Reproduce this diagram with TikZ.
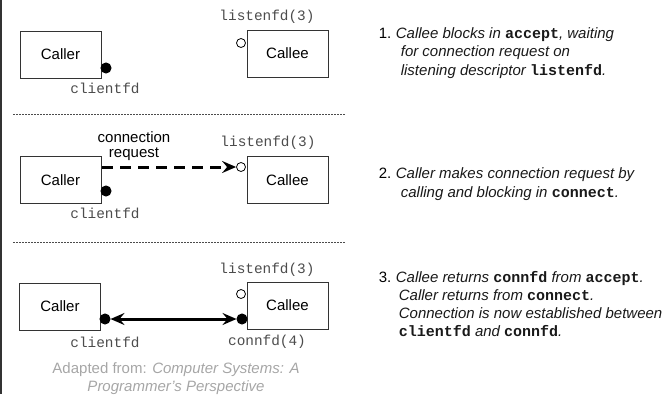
\documentclass[tikz,border=0pt]{standalone}
\usepackage{fontspec}
\setmainfont{Liberation Sans}
\setmonofont{Liberation Mono}
\usetikzlibrary{arrows.meta}

\newcommand{\code}[1]{{\upshape\bfseries\ttfamily #1}}

\begin{document}
\begin{tikzpicture}[x=1pt, y=-1pt, line width=1pt]
      \tikzstyle{every node}=[font=\fontsize{15}{18.5}\selectfont]
      \tikzstyle{proc}=[draw=black!80, minimum width=81pt, minimum height=47pt, inner sep=0pt]
      \tikzstyle{fd}=[font=\fontsize{14.4}{16}\selectfont\ttfamily, text=black!70]
      \tikzstyle{sock}=[circle, draw=black, fill=black, minimum size=10pt, inner sep=0pt]
      \tikzstyle{lsock}=[circle, draw=black, fill=white, minimum size=9pt, inner sep=0pt, line width=0.8pt]
      \tikzstyle{note}=[anchor=base west, align=left, text=black!90]
      \tikzstyle{sep}=[dash pattern=on 2pt off 1pt, line width=0.6pt, black!70]
      \useasboundingbox (0,0) rectangle (664,394);
      \draw[black!80, line width=1.5pt] (1,0) -- (1,394);
      % 1: callee waits
      \node [proc] (c1) at (60.5, 54.5) {Caller};
      \node [proc] (e1) at (287.5, 53.5) {Callee};
      \node [sock] (d1) at (106, 68) {};
      \node [lsock] (l1) at (241, 43) {};
      \node [fd] (d1t) at (105, 88) {clientfd};
      \node [fd] (l1t) at (267, 17) {listenfd(3)};
      \node [anchor=base west] (n1) at (375, 38) {1.};
      \node [note, font=\fontsize{15}{18.5}\selectfont\itshape] (t1) at (392, 75)
        {Callee blocks in \code{accept}, waiting\\
         \hspace*{5pt}for connection request on\\
         \hspace*{5pt}listening descriptor \code{listenfd}.};
      \draw [sep] (13, 114) -- (345, 114);
      % 2: caller connects
      \node [proc] (c2) at (60.5, 180) {Caller};
      \node [proc] (e2) at (287.5, 180) {Callee};
      \node [sock] (d2) at (106, 191) {};
      \node [lsock] (l2) at (241, 167) {};
      \node [fd] (d2t) at (105, 213) {clientfd};
      \node [fd] (l2t) at (268, 143) {listenfd(3)};
      \node [anchor=base, align=center, font=\fontsize{15}{15}\selectfont] (rq) at (134, 157.5) {connection\\request};
      \coordinate (rs) at (102, 167);
      \draw [-{Stealth[length=14pt, width=12pt, inset=5pt]}, line width=3pt, dash pattern=on 11pt off 7pt] (rs) -- (l2);
      \node [anchor=base west] (n2) at (375, 178) {2.};
      \node [note, font=\fontsize{15}{19.5}\selectfont\itshape] (t2) at (392, 197.5)
        {Caller makes connection request by\\
         \hspace*{5pt}calling and blocking in \code{connect}.};
      \draw [sep] (13, 242) -- (345, 242);
      % 3: connection established
      \node [proc] (c3) at (60, 306.5) {Caller};
      \node [proc] (e3) at (287.5, 305.5) {Callee};
      \node [sock] (d3) at (105, 319) {};
      \node [sock] (k3) at (242, 319) {};
      \node [lsock] (l3) at (241, 294) {};
      \node [fd] (d3t) at (105, 342) {clientfd};
      \node [fd] (l3t) at (267, 270) {listenfd(3)};
      \node [fd] (k3t) at (267, 342) {connfd(4)};
      \draw [{Stealth[length=14pt, width=12pt, inset=5pt]}-{Stealth[length=14pt, width=12pt, inset=5pt]}, line width=3pt] (d3) -- (k3);
      \node [anchor=base west] (n3) at (375, 282) {3.};
      \node [note, font=\fontsize{15}{18}\selectfont\itshape] (t3) at (392, 336)
        {Callee returns \code{connfd} from \code{accept}.\\
         \hspace*{3pt}Caller returns from \code{connect}.\\
         \hspace*{3pt}Connection is now established between\\
         \hspace*{3pt}\code{clientfd} and \code{connfd}.};
      \node [anchor=base, align=center, text=black!35] (src) at (176, 391.5)
        {Adapted from: \textit{Computer Systems: A}\\ \textit{Programmer's Perspective}};
    \end{tikzpicture}
\end{document}
